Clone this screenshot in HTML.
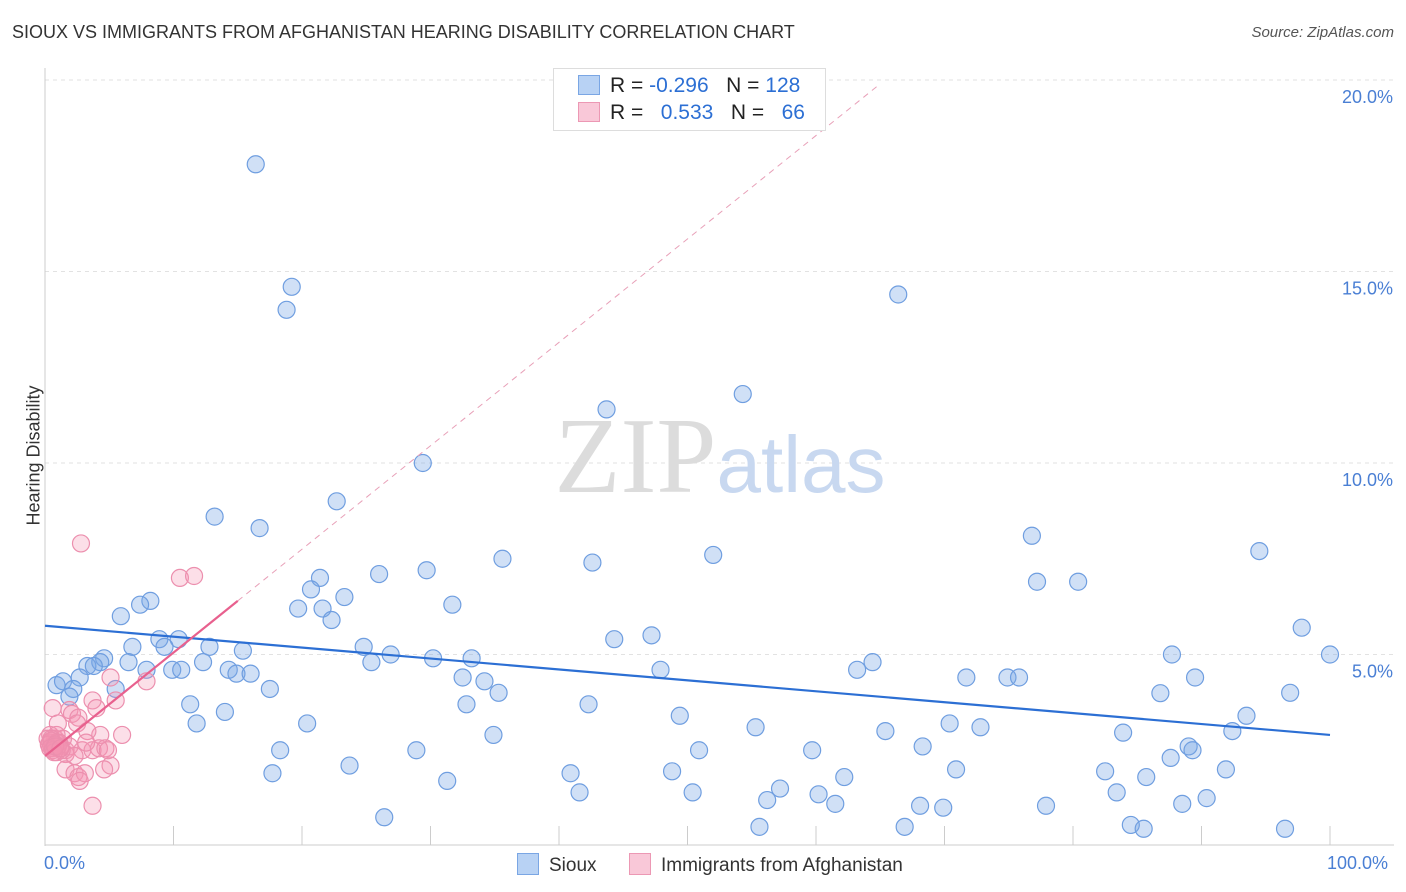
<!DOCTYPE html>
<html><head><meta charset="utf-8">
<style>
body{margin:0;background:#fff;font-family:"Liberation Sans",sans-serif;}
#wrap{position:relative;width:1406px;height:892px;overflow:hidden;}
.t{position:absolute;white-space:nowrap;}
</style></head>
<body>
<div id="wrap">
<div class="t" style="left:12px;top:22px;font-size:18px;color:#333;">SIOUX VS IMMIGRANTS FROM AFGHANISTAN HEARING DISABILITY CORRELATION CHART</div>
<div class="t" style="right:12px;top:24px;font-size:15px;color:#555;font-style:italic;">Source: ZipAtlas.com</div>
<div class="t" style="left:-36px;top:445px;font-size:18px;color:#333;transform:rotate(-90deg);">Hearing Disability</div>
<svg id="plot" width="1406" height="892" style="position:absolute;left:0;top:0"></svg>
</div>
<script>
const sx=[16.4,19.2,18.8,66.4,54.3,43.7,29.4,22.7,13.2,16.7,76.8,94.5,35.6,52.0,42.6,29.7,26.0,21.4,77.2,80.4,20.7,23.3,8.2,7.4,19.7,21.6,31.7,22.3,5.9,97.8,44.3,47.2,8.9,10.4,9.3,12.8,6.8,24.8,100,87.7,15.4,4.6,4.3,3.3,3.8,6.5,25.4,26.9,30.2,33.2,12.3,64.4,63.2,47.9,7.9,9.9,10.6,14.3,14.9,16.0,32.5,74.9,75.8,71.7,89.5,0.9,1.4,2.7,2.2,5.5,17.5,34.2,35.3,86.8,96.9,1.9,11.3,32.8,42.3,49.4,93.5,11.8,14.0,20.4,70.4,55.3,72.8,65.4,92.4,83.9,34.9,89.0,89.3,68.3,18.3,28.9,50.9,59.7,87.6,23.7,40.9,48.8,70.9,82.5,91.9,17.7,62.2,85.7,31.3,57.2,41.6,50.4,83.4,60.2,56.2,61.5,77.9,90.4,88.5,68.1,69.9,26.4,55.6,66.9,84.5,85.5,96.5];
const sy=[17.8,14.6,14.0,14.4,11.8,11.4,10.0,9.0,8.6,8.3,8.1,7.7,7.5,7.6,7.4,7.2,7.1,7.0,6.9,6.9,6.7,6.5,6.4,6.3,6.2,6.2,6.3,5.9,6.0,5.7,5.4,5.5,5.4,5.4,5.2,5.2,5.2,5.2,5.0,5.0,5.1,4.9,4.8,4.7,4.7,4.8,4.8,5.0,4.9,4.9,4.8,4.8,4.6,4.6,4.6,4.6,4.6,4.6,4.5,4.5,4.4,4.4,4.4,4.4,4.4,4.2,4.3,4.4,4.1,4.1,4.1,4.3,4.0,3.99,4.0,3.9,3.7,3.7,3.7,3.4,3.4,3.2,3.5,3.2,3.2,3.1,3.1,3.0,3.0,2.96,2.9,2.6,2.5,2.6,2.5,2.5,2.5,2.5,2.3,2.1,1.9,1.95,2.0,1.95,2.0,1.9,1.8,1.8,1.7,1.5,1.4,1.4,1.4,1.35,1.2,1.1,1.05,1.25,1.1,1.05,1.0,0.75,0.5,0.5,0.55,0.45,0.45];
const ax=[2.8,10.5,11.6,5.1,7.9,3.7,4.0,5.5,1.9,2.1,0.6,2.6,2.5,1.0,4.3,3.3,6.0,0.4,0.8,1.2,1.6,0.5,1.9,2.9,3.7,4.2,4.7,1.4,0.9,0.2,1.6,2.3,5.1,4.6,1.6,2.3,2.6,3.1,2.7,3.7,0.4,0.7,1.3,3.2,4.9,0.5,0.9,0.3,0.6,0.9,1.1,0.5,0.8,1.0,0.4,0.6,0.7,0.8,1.2];
const ay=[7.9,7.0,7.05,4.4,4.3,3.8,3.6,3.8,3.55,3.45,3.6,3.35,3.2,3.2,2.9,3.0,2.9,2.9,2.8,2.6,2.5,2.6,2.6,2.5,2.5,2.55,2.55,2.8,2.9,2.8,2.4,2.35,2.1,2.0,2.0,1.9,1.8,1.9,1.7,1.05,2.7,2.6,2.5,2.7,2.5,2.8,2.7,2.65,2.55,2.45,2.7,2.75,2.65,2.6,2.55,2.5,2.45,2.6,2.55];
const yTicks=[5,10,15,20];
const yTickLabels=["5.0%","10.0%","15.0%","20.0%"];
const xTickVals=[0,10,20,30,40,50,60,70,80,90,100];
const blueTrend=[5.75,2.9];
const pinkTrend=[2.35,6.4,15];

const X=v=>45+v*12.85, Y=v=>846-v*38.3;
const svg=document.getElementById('plot');
const NS='http://www.w3.org/2000/svg';
function mk(tag,at,parent){const e=document.createElementNS(NS,tag);for(const k in at)e.setAttribute(k,at[k]);(parent||svg).appendChild(e);return e;}
yTicks.forEach((t,i)=>{
 const l=mk('line',{x1:45,x2:1394,y1:Y(t),y2:Y(t),stroke:'#e2e2e2','stroke-dasharray':'4,4'});
 
 
 const tx=mk('text',{x:1393,y:Y(t)+23,'text-anchor':'end','font-size':18,fill:'#4a7fd4','font-family':'Liberation Sans'});
 tx.textContent=yTickLabels[i];
 
 
});
const axl=mk('line',{x1:45,x2:45,y1:68,y2:846,stroke:'#ccc'});


const bxl=mk('line',{x1:45,x2:1394,y1:845,y2:845,stroke:'#ccc'});


xTickVals.forEach(v=>{
 const l=mk('line',{x1:X(v),x2:X(v),y1:826,y2:845,stroke:'#ccc'});
 
 
});
const wm=mk('text',{x:720,y:492,'text-anchor':'middle','font-size':108,'font-family':'Liberation Serif',fill:'#dcdcdc'});
wm.innerHTML='ZIP<tspan fill="#c8d8f0" font-family="Liberation Sans" font-size="80">atlas</tspan>';


sx.forEach((v,i)=>{
 const c=mk('circle',{cx:X(v),cy:Y(sy[i]),r:8.5,fill:'rgba(120,165,230,0.35)',stroke:'#6f9ee0','stroke-width':1.2});
 
 
});
ax.forEach((v,i)=>{
 const c=mk('circle',{cx:X(v),cy:Y(ay[i]),r:8.5,fill:'rgba(245,150,180,0.3)',stroke:'#ec8fae','stroke-width':1.2});
 
 
});
const bt=mk('line',{x1:X(0),y1:Y(blueTrend[0]),x2:X(100),y2:Y(blueTrend[1]),stroke:'#2c6fd4','stroke-width':2.2});


const slope=(pinkTrend[1]-pinkTrend[0])/pinkTrend[2];
const pd=mk('line',{x1:X(pinkTrend[2]),y1:Y(pinkTrend[1]),x2:X(65),y2:Y(pinkTrend[0]+slope*65),stroke:'#e8a0b8','stroke-width':1,'stroke-dasharray':'6,5'});


const pt=mk('line',{x1:X(0),y1:Y(pinkTrend[0]),x2:X(pinkTrend[2]),y2:Y(pinkTrend[1]),stroke:'#e8608e','stroke-width':2.2});


</script>
<div class="t" style="left:553px;top:68px;width:271px;height:61px;border:1px solid #ddd;background:#fff;"></div>
<div class="t" style="left:578px;top:74px;font-size:21px;color:#222;line-height:24px;">
<span style="display:inline-block;width:20px;height:18px;background:#b8d2f4;border:1px solid #7aa6e4;vertical-align:-3px;margin-right:10px"></span>R = <span style="color:#2c6fd4">-0.296</span>&nbsp;&nbsp;&nbsp;N = <span style="color:#2c6fd4">128</span></div>
<div class="t" style="left:578px;top:101px;font-size:21px;color:#222;line-height:24px;">
<span style="display:inline-block;width:20px;height:18px;background:#f9c8d8;border:1px solid #ec98b4;vertical-align:-3px;margin-right:10px"></span>R = &nbsp;&nbsp;<span style="color:#2c6fd4">0.533</span>&nbsp;&nbsp;&nbsp;N = &nbsp;&nbsp;<span style="color:#2c6fd4">66</span></div>
<div class="t" style="left:44px;top:853px;font-size:18px;color:#4a7fd4;">0.0%</div>
<div class="t" style="left:1327px;top:853px;font-size:18px;color:#4a7fd4;">100.0%</div>
<div class="t" style="left:517px;top:853px;font-size:19px;color:#333;"><span style="display:inline-block;width:20px;height:20px;background:#b8d2f4;border:1px solid #7aa6e4;vertical-align:-4px;margin-right:10px"></span>Sioux</div>
<div class="t" style="left:629px;top:853px;font-size:19px;color:#333;"><span style="display:inline-block;width:20px;height:20px;background:#f9c8d8;border:1px solid #ec98b4;vertical-align:-4px;margin-right:10px"></span>Immigrants from Afghanistan</div>
</body></html>
